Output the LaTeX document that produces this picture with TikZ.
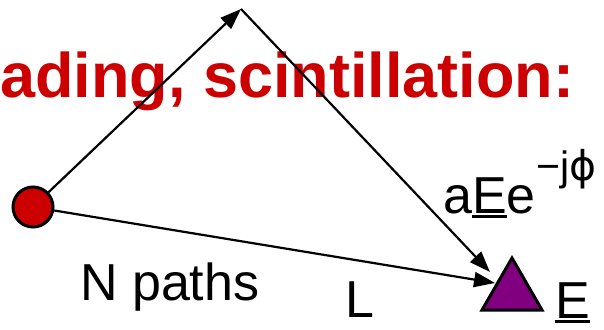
\documentclass[tikz,border=0pt]{standalone}
\usepackage{fontspec}
\setmainfont{Liberation Sans}
\newfontfamily\djv{DejaVu Sans}
\usetikzlibrary{arrows.meta}
\definecolor{titlered}{HTML}{CC0000}
\definecolor{rxpurple}{HTML}{800080}
\newcommand\ulE{\leavevmode\rlap{\rule[-0.1em]{0.667em}{0.055em}}E}
\begin{document}
\begin{tikzpicture}[x=1pt,y=-1pt,
  conn/.style={line width=2.2pt, -{Triangle[length=21pt,width=15pt]}},
  lbl/.style={font=\fontsize{52}{60}\selectfont, inner sep=0, anchor=base west},
  suplbl/.style={font=\fontsize{41}{46}\selectfont, inner sep=0, anchor=base west},
]
\useasboundingbox (0,0) rectangle (604,329);
\node[anchor=base west, inner sep=0, text=titlered, font=\fontsize{63}{70}\selectfont\bfseries] (title) at (0,97) {ading, scintillation:};
\node[circle, draw, line width=3pt, fill=titlered, minimum size=40pt, inner sep=0] (src) at (33,207) {};
\coordinate (apex) at (241,9);
\coordinate (rxa) at (490,272);
\coordinate (rxb) at (495,283);
\draw[conn] (src) -- (apex);
\draw[conn] (apex) -- (rxa);
\draw[conn] (src) -- (rxb);
\draw[line width=3pt, fill=rxpurple, line join=miter] (512,258) -- (542,310) -- (482,310) -- cycle;
\node[lbl] (np) at (80,300) {N paths};
\node[lbl] (ll) at (345,317) {L};
\node[lbl] (ee) at (555,318) {\ulE};
\node[lbl] (ae) at (443,213) {a\ulE e};
\node[suplbl] (ex) at (ae.base east) [yshift=33pt] {−j{\djv ϕ}};
\end{tikzpicture}
\end{document}
